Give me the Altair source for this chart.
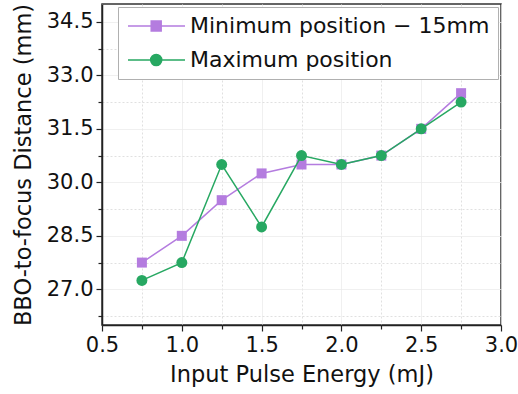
import altair as alt
import pandas as pd

# ---- data ----
energy = [0.75, 1.0, 1.25, 1.5, 1.75, 2.0, 2.25, 2.5, 2.75]
min_position = [27.75, 28.5, 29.5, 30.25, 30.5, 30.5, 30.75, 31.5, 32.5]
max_position = [27.25, 27.75, 30.5, 28.75, 30.75, 30.5, 30.75, 31.5, 32.25]
series_names = ["Minimum position \u2212 15mm", "Maximum position"]
series_colors = ["#B47CDF", "#27A862"]
marker_shapes = ["square", "circle"]
marker_sizes = [100, 120]
x_ticks = [0.5, 0.75, 1.0, 1.25, 1.5, 1.75, 2.0, 2.25, 2.5, 2.75, 3.0]
y_ticks = [26.25, 27.0, 27.75, 28.5, 29.25, 30.0, 30.75, 31.5, 32.25, 33.0, 33.75, 34.5]
x_domain = [0.5, 3.0]
y_domain = [26.0, 35.0]

rows = []
for name, vals in zip(series_names, [min_position, max_position]):
    for e, v in zip(energy, vals):
        rows.append({"energy": e, "distance": v, "series": name})
df = pd.DataFrame(rows)

FONT = "DejaVu Sans"

minor_x = "abs(datum.value * 2 - round(datum.value * 2)) > 0.01"
minor_y = "abs((datum.value - 27) / 1.5 - round((datum.value - 27) / 1.5)) > 0.01"


def axis(minor, values, title, title_pad):
    return alt.Axis(
        title=title,
        values=values,
        labelExpr=f"({minor}) ? '' : format(datum.value, '.1f')",
        labelFlush=False,
        labelOverlap=False,
        grid=True,
        gridColor={"condition": {"test": minor, "value": "#e0e0e0"}, "value": "#ebebeb"},
        gridDash={"condition": {"test": minor, "value": [2, 2]}, "value": [1, 0]},
        gridWidth=1,
        tickSize={"condition": {"test": minor, "value": 4}, "value": 6},
        tickColor="#222222",
        tickWidth=1.2,
        domainColor="#222222",
        domainWidth=1.5,
        labelFont=FONT,
        labelFontSize=21,
        labelColor="#111111",
        labelPadding=3,
        titleFont=FONT,
        titleFontSize=22.5,
        titleFontWeight="normal",
        titleColor="#111111",
        titlePadding=title_pad,
    )


x_enc = alt.X("energy:Q", scale=alt.Scale(domain=x_domain, nice=False, zero=False),
              axis=axis(minor_x, x_ticks, "Input Pulse Energy (mJ)", 8))
y_enc = alt.Y("distance:Q", scale=alt.Scale(domain=y_domain, nice=False, zero=False),
              axis=axis(minor_y, y_ticks, "BBO-to-focus Distance (mm)", 11))

color_scale = alt.Scale(domain=series_names, range=series_colors)

# legend symbols: line with marker in the middle (custom paths, unit = 6 px)
sq_path = "M-1.5,0H8M2.37,-0.83H4.03V0.83H2.37Z"
ci_path = "M-1.5,0H8M2.28,0A0.92,0.92 0 1,0 4.12,0A0.92,0.92 0 1,0 2.28,0Z"
shape_scale = alt.Scale(domain=series_names, range=[sq_path, ci_path])

legend = alt.Legend(
    title=None,
    orient="none",
    legendX=16,
    legendY=3,
    padding=8,
    strokeColor="#b0b0b0",
    fillColor="white",
    labelFont=FONT,
    labelFontSize=22,
    labelColor="#111111",
    labelOffset=42,
    labelLimit=500,
    rowPadding=12,
    symbolSize=144,
    symbolStrokeWidth=1.5,
    symbolOpacity=1,
)

base = alt.Chart(df)

layers = []
for name, col, shp, sz in zip(series_names, series_colors, marker_shapes, marker_sizes):
    sub = base.transform_filter(alt.datum.series == name)
    layers.append(sub.mark_line(strokeWidth=1.5, color=col).encode(x=x_enc, y=y_enc))
    layers.append(
        sub.mark_point(filled=True, opacity=1, shape=shp, size=sz, color=col).encode(x=x_enc, y=y_enc)
    )

legend_layer = base.mark_point(filled=True, opacity=0, strokeWidth=1.5).encode(
    x=x_enc, y=y_enc,
    color=alt.Color("series:N", scale=color_scale, legend=legend),
    stroke=alt.Stroke("series:N", scale=color_scale, legend=legend),
    shape=alt.Shape("series:N", scale=shape_scale, legend=legend),
)
layers.append(legend_layer)

chart = alt.layer(*layers).properties(
    width=399,
    height=321,
    autosize=alt.AutoSizeParams(type="none"),
    padding={"left": 102, "top": 4, "right": 17, "bottom": 69},
    background="white",
).configure_view(
    stroke="#333333",
    strokeWidth=1.5,
)

chart.save("out.html", embed_options={"renderer": "svg", "actions": False})
